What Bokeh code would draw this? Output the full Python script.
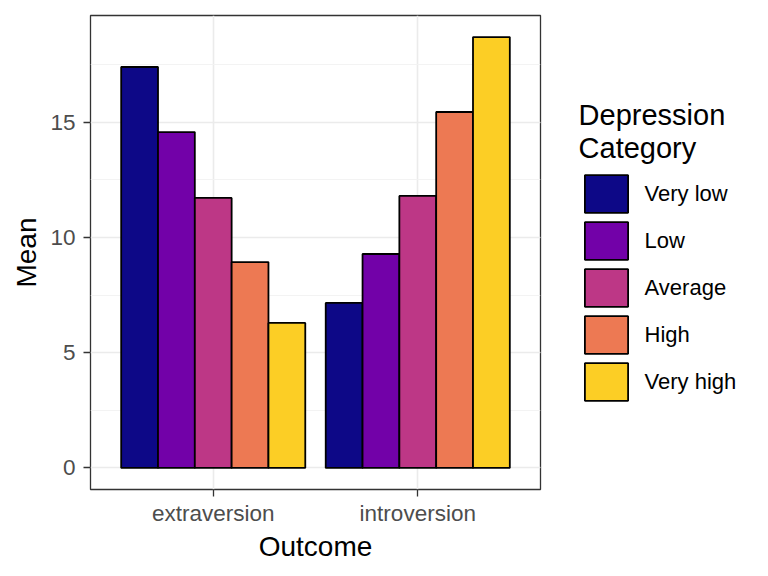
from bokeh.plotting import figure
from bokeh.models import (ColumnDataSource, FactorRange, Range1d, SingleIntervalTicker,
                          Legend, LegendItem)
from bokeh.transform import dodge
from bokeh.embed import file_html
from bokeh.resources import INLINE

outcomes = ["extraversion", "introversion"]
categories = ["Very low", "Low", "Average", "High", "Very high"]
very_low = [17.39, 7.16]
low = [14.57, 9.28]
average = [11.71, 11.80]
high = [8.93, 15.44]
very_high = [6.29, 18.69]
colors = ["#0D0887", "#7201A8", "#BD3786", "#ED7953", "#FCCE25"]

series = [very_low, low, average, high, very_high]
data = {"outcome": outcomes}
keys = ["v%d" % i for i in range(len(categories))]
for k, s in zip(keys, series):
    data[k] = s
source = ColumnDataSource(data)

ymax = max(max(s) for s in series)
pad = 0.05 * ymax

FONT = "Liberation Sans"

p = figure(frame_width=450, frame_height=474, output_backend="svg", toolbar_location=None,
           x_range=FactorRange(factors=outcomes, range_padding=0.1,
                               range_padding_units="absolute"),
           y_range=Range1d(-pad, ymax + pad),
           min_border_left=90, min_border_right=0, min_border_top=15,
           min_border_bottom=71)
p.background_fill_color = "white"
p.border_fill_color = "white"
p.outline_line_color = "#333333"
p.outline_line_width = 1.3

bw = 0.9 / len(categories)
renderers = []
for i, (k, c) in enumerate(zip(keys, colors)):
    off = (i - (len(categories) - 1) / 2) * bw
    r = p.vbar(x=dodge("outcome", off, range=p.x_range), top=k, bottom=0, width=bw,
               source=source, fill_color=c, line_color="black", line_width=1.8)
    renderers.append(r)

p.yaxis.ticker = SingleIntervalTicker(interval=5, num_minor_ticks=2)
p.ygrid.grid_line_color = "#EBEBEB"
p.ygrid.grid_line_width = 1.6
p.ygrid.minor_grid_line_color = "#F2F2F2"
p.ygrid.minor_grid_line_width = 0.9
p.xgrid.grid_line_color = "#EBEBEB"
p.xgrid.grid_line_width = 1.6

for ax in (p.xaxis, p.yaxis):
    ax.axis_line_color = None
    ax.major_tick_line_color = "#333333"
    ax.major_tick_line_width = 1.3
    ax.major_tick_out = 7
    ax.major_tick_in = 0
    ax.minor_tick_line_color = None
    ax.major_label_text_font = FONT
    ax.major_label_text_font_size = "22.5px"
    ax.major_label_text_color = "#4D4D4D"
    ax.axis_label_text_font = FONT
    ax.axis_label_text_font_size = "28px"
    ax.axis_label_text_font_style = "normal"
    ax.axis_label_text_color = "black"

p.yaxis.axis_label = "Mean"
p.xaxis.axis_label = "Outcome"
p.yaxis.major_label_standoff = 8
p.yaxis.axis_label_standoff = 5
p.xaxis.major_label_standoff = 4
p.xaxis.axis_label_standoff = 2

legend = Legend(items=[LegendItem(label=cat, renderers=[r]) for cat, r in zip(categories, renderers)],
                title="Depression\nCategory",
                title_text_font=FONT, title_text_font_size="29px", title_text_color="black",
                title_text_font_style="normal", title_text_line_height=1.07, title_standoff=5,
                location=(38.6, 83.7), orientation="vertical",
                glyph_width=54, glyph_height=47, spacing=0, label_standoff=12,
                padding=0, margin=0, border_line_color=None, background_fill_alpha=0,
                label_text_font=FONT, label_text_font_size="22px", label_text_color="black",
                label_text_baseline="middle")
p.add_layout(legend, "right")

open("out.html", "w").write(file_html(p, INLINE))
